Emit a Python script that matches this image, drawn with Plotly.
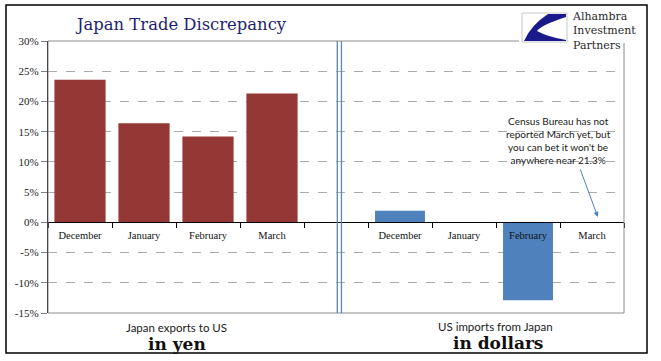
import plotly.graph_objects as go

# ---- data ----
categories = ["December", "January", "February", "March", "",
              "December", "January", "February", "March"]
japan_exports_yen = [23.6, 16.4, 14.2, 21.3]          # slots 0-3
us_imports_dollars = [1.9, 0.0, -12.9, None]         # slots 5-8
y_ticks = [30, 25, 20, 15, 10, 5, 0, -5, -10, -15]
y_tick_labels = ["30%", "25%", "20%", "15%", "10%", "5%", "0%", "-5%", "-10%", "-15%"]

W, H = 661, 361
L, R, T, B = 48, 37, 41, 48
pw, ph = W - L - R, H - T - B


def px(xp):
    return (xp - L) / pw


def py(yp):
    return (H - B - yp) / ph


x_left = list(range(0, 4))
x_right = list(range(5, 9))

fig = go.Figure()
fig.add_trace(go.Bar(x=x_left, y=japan_exports_yen, width=0.8,
                     marker=dict(color="#953735", line=dict(width=0)),
                     name="Japan exports to US (yen)"))
fig.add_trace(go.Bar(x=x_right, y=us_imports_dollars, width=0.78,
                     marker=dict(color="#4f81bd", line=dict(width=0)),
                     name="US imports from Japan (dollars)"))

shapes = []
# plot frame (gray)
shapes.append(dict(type="rect", xref="paper", yref="paper", x0=0, x1=1, y0=0, y1=1,
                   line=dict(color="#8c8c8c", width=1), layer="above"))
# separator double line
for xs in (4.02, 4.085):
    shapes.append(dict(type="line", xref="x", yref="paper", x0=xs, x1=xs, y0=0, y1=1,
                       line=dict(color="#5a88b0", width=1.3), layer="above"))
# white cover behind the logo
shapes.append(dict(type="rect", xref="paper", yref="paper",
                   x0=px(519), x1=px(645), y0=py(43), y1=py(7),
                   line=dict(width=0), fillcolor="white", layer="above"))
# logo box
shapes.append(dict(type="rect", xref="paper", yref="paper",
                   x0=px(522), x1=px(567), y0=py(42), y1=py(13),
                   line=dict(color="#c8c8c8", width=1), fillcolor="white", layer="above"))
path = "M {} {} ".format(px(548), py(14))
path += "L {} {} ".format(px(566), py(14))
path += "L {} {} ".format(px(566), py(17))
path += "Q {} {} {} {} ".format(px(541), py(25), px(537), py(31))
path += "Q {} {} {} {} ".format(px(548), py(37), px(566), py(40))
path += "L {} {} ".format(px(566), py(41))
path += "L {} {} ".format(px(524), py(41))
path += "Q {} {} {} {} Z".format(px(531), py(25), px(548), py(14))
shapes.append(dict(type="path", xref="paper", yref="paper", path=path,
                   fillcolor="#1a1a8a", line=dict(width=0), layer="above"))
# outer black border
shapes.append(dict(type="rect", xref="paper", yref="paper",
                   x0=px(6), x1=px(647), y0=py(353), y1=py(5),
                   line=dict(color="black", width=1.5), layer="above"))

annotations = [
    dict(text="Japan Trade Discrepancy", xref="paper", yref="paper",
         x=px(180.5), y=py(25), showarrow=False, xanchor="center", yanchor="middle",
         font=dict(family="DejaVu Serif", size=16.4, color="#1e1e70")),
    dict(text="Alhambra<br>Investment<br>Partners", xref="paper", yref="paper",
         x=px(570), y=py(31), showarrow=False, xanchor="left", yanchor="middle",
         align="left",
         font=dict(family="DejaVu Serif", size=11, color="#2a2a2a")),
    dict(text="Census Bureau has not<br>reported March yet, but<br>you can bet it won't be<br>anywhere near 21.3%",
         xref="paper", yref="paper", x=px(558), y=py(140), showarrow=False,
         xanchor="center", yanchor="middle", align="center",
         font=dict(family="Lato", size=10, color="#1a1a1a")),
    dict(text="", xref="x", yref="y", x=8.09, y=0.9, ax=-18, ay=-49,
         showarrow=True, arrowhead=2, arrowsize=1, arrowwidth=1, arrowcolor="#4f81bd"),
    dict(text="Japan exports to US", xref="paper", yref="paper", x=px(176), y=py(327),
         showarrow=False, xanchor="center", yanchor="middle",
         font=dict(family="Lato", size=11.5, color="#1a1a1a")),
    dict(text="<b>in yen</b>", xref="paper", yref="paper", x=px(177), y=py(344),
         showarrow=False, xanchor="center", yanchor="middle",
         font=dict(family="DejaVu Serif", size=17, color="#111111")),
    dict(text="US imports from Japan", xref="paper", yref="paper", x=px(495), y=py(326),
         showarrow=False, xanchor="center", yanchor="middle",
         font=dict(family="Lato", size=11.5, color="#1a1a1a")),
    dict(text="<b>in dollars</b>", xref="paper", yref="paper", x=px(498), y=py(343),
         showarrow=False, xanchor="center", yanchor="middle",
         font=dict(family="DejaVu Serif", size=17, color="#111111")),
]

zero_pos = (0 - min(y_ticks)) / (max(y_ticks) - min(y_ticks))

fig.update_layout(
    width=W, height=H,
    margin=dict(l=L, r=R, t=T, b=B, pad=0),
    paper_bgcolor="white", plot_bgcolor="white",
    showlegend=False,
    bargap=0.2,
    shapes=shapes,
    annotations=annotations,
    xaxis=dict(range=[-0.5, 8.5], tickmode="array",
               tickvals=list(range(len(categories))), ticktext=categories,
               ticks="outside", ticklen=3, tickcolor="rgba(0,0,0,0)",
               showline=True, linecolor="black", linewidth=1.3,
               anchor="free", position=zero_pos, showgrid=False, zeroline=False,
               tickfont=dict(family="Liberation Serif", size=10.5, color="#111111"),
               minor=dict(tick0=-0.5, dtick=1, ticks="outside", ticklen=5,
                          tickcolor="black", tickwidth=1, showgrid=False),
               fixedrange=True),
    yaxis=dict(range=[min(y_ticks), max(y_ticks)], tickmode="array",
               tickvals=y_ticks, ticktext=y_tick_labels,
               showgrid=True, gridcolor="#ababab", griddash="dash", gridwidth=1,
               zeroline=False, showline=True, linecolor="black", linewidth=1.3,
               ticks="outside", ticklen=6, tickcolor="#7f7f7f",
               tickfont=dict(family="Liberation Serif", size=11, color="#222222"),
               fixedrange=True),
)

fig.write_html("out.html", config={"displayModeBar": False},
               post_script="document.body.style.margin='0px';document.body.style.padding='0px';")
